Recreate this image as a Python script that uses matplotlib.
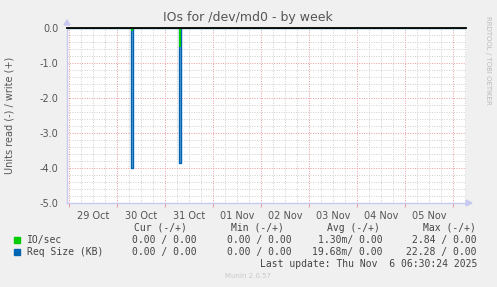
import datetime as dt
import matplotlib
matplotlib.use("Agg")
import matplotlib.pyplot as plt
import matplotlib.dates as mdates
from matplotlib.ticker import MultipleLocator

W, H = 497, 287

# read (-) values around the two spikes (write side is 0 everywhere)
io_times = ["2025-10-28 23:00", "2025-10-30 07:30", "2025-10-30 07:30", "2025-10-30 07:30",
            "2025-10-31 07:30", "2025-10-31 07:30", "2025-10-31 07:30", "2025-11-06 06:30"]
io_read = [0.0, 0.0, -0.05, 0.0, 0.0, -0.5, 0.0, 0.0]
req_times = ["2025-10-28 23:00", "2025-10-30 07:00", "2025-10-30 07:00", "2025-10-30 08:00",
             "2025-10-30 08:00", "2025-10-31 07:00", "2025-10-31 07:00", "2025-10-31 08:00",
             "2025-10-31 08:00", "2025-11-06 06:30"]
req_read = [0.0, 0.0, -4.0, -4.0, 0.0, 0.0, -3.85, -3.85, 0.0, 0.0]

start = dt.datetime(2025, 10, 28, 23, 0)
end = dt.datetime(2025, 11, 6, 6, 30)

legend_names = ["IO/sec", "Req Size (KB)"]
legend_colors = ["#00CC00", "#0066B3"]
cur = ["0.00 / 0.00", "0.00 / 0.00"]
mins = ["0.00 / 0.00", "0.00 / 0.00"]
avgs = ["1.30m/ 0.00", "19.68m/ 0.00"]
maxs = ["2.84 / 0.00", "22.28 / 0.00"]


def px(x, y):
    return x / W, 1 - y / H


def ts(lst):
    return [dt.datetime.strptime(s, "%Y-%m-%d %H:%M") for s in lst]


fig = plt.figure(figsize=(W / 100, H / 100), dpi=100, facecolor="#F0F0F0")
ax = fig.add_axes([67 / W, 1 - 203 / H, (466 - 67) / W, (203 - 28) / H])
ax.set_facecolor("white")

ax.fill_between(ts(req_times), req_read, 0, color="#6FA6D6", lw=0)
ax.plot(ts(req_times), req_read, color=legend_colors[1], lw=1.0)
ax.plot(ts(io_times), io_read, color=legend_colors[0], lw=1.2)
ax.axhline(0, color="black", lw=1.3, clip_on=False, zorder=5)

ax.set_xlim(start, end)
ax.set_ylim(-5, 0)

ax.xaxis.set_major_locator(mdates.DayLocator())
ax.xaxis.set_major_formatter(plt.NullFormatter())
ax.xaxis.set_minor_locator(mdates.HourLocator(byhour=[6, 12, 18]))
ax.yaxis.set_major_locator(MultipleLocator(1.0))
ax.yaxis.set_minor_locator(MultipleLocator(0.2))
ax.yaxis.set_major_formatter(plt.FuncFormatter(lambda v, p: "%.1f" % v))

ax.grid(which="minor", color="#CFCFCF", ls=(0, (1, 1.5)), lw=0.7)
ax.grid(which="major", color="#E89A9A", ls=(0, (1, 1.5)), lw=0.7)
ax.set_axisbelow(True)

for s in ["top", "right"]:
    ax.spines[s].set_visible(False)
for s in ["left", "bottom"]:
    ax.spines[s].set_color("#C8C8F0")
    ax.spines[s].set_linewidth(1.0)

ax.tick_params(axis="y", which="both", length=0, labelsize=7, labelcolor="#555555", pad=6)
ax.tick_params(axis="x", which="major", length=3, color="#EAA0A0", direction="out")
ax.tick_params(axis="x", which="minor", length=0)

# date labels centred at noon
d = dt.datetime(2025, 10, 29, 12)
while d < end:
    ax.text(d, -5.22, d.strftime("%d %b"), ha="center", va="top",
            fontsize=7, color="#555555", clip_on=False)
    d += dt.timedelta(days=1)

# axis arrows
fig.patches.append(plt.Polygon([px(64, 25), px(70, 25), px(67, 20)], closed=True,
                               color="#C8C8F0", transform=fig.transFigure))
fig.patches.append(plt.Polygon([px(466, 200), px(466, 206), px(472, 203)], closed=True,
                               color="#C8C8F0", transform=fig.transFigure))

fig.text(*px(248, 18), "IOs for /dev/md0 - by week", ha="center", va="center",
         fontsize=9, color="#555555")
fig.text(*px(10, 115), "Units read (-) / write (+)", rotation=90, ha="center", va="center",
         fontsize=7, color="#555555")
fig.text(*px(488, 60), "RRDTOOL / TOBI OETIKER", rotation=270, ha="center", va="center",
         fontsize=5, color="#BBBBBB")

mono = dict(family="DejaVu Sans Mono", fontsize=7.0, color="#444444", va="center")
hy = 228
fig.text(*px(187, hy), "Cur (-/+)", ha="right", **mono)
fig.text(*px(284, hy), "Min (-/+)", ha="right", **mono)
fig.text(*px(380, hy), "Avg (-/+)", ha="right", **mono)
fig.text(*px(476, hy), "Max (-/+)", ha="right", **mono)

for i, yy in enumerate([240, 252]):
    fig.patches.append(plt.Rectangle(px(14, yy + 3), 6 / W, 6 / H, color=legend_colors[i],
                                     transform=fig.transFigure))
    fig.text(*px(27, yy), legend_names[i], ha="left", **mono)
    fig.text(*px(197, yy), cur[i], ha="right", **mono)
    fig.text(*px(292, yy), mins[i], ha="right", **mono)
    fig.text(*px(383, yy), avgs[i], ha="right", **mono)
    fig.text(*px(477, yy), maxs[i], ha="right", **mono)

fig.text(*px(477, 264), "Last update: Thu Nov  6 06:30:24 2025", ha="right", **mono)
fig.text(*px(248, 276), "Munin 2.0.57", ha="center", va="center", fontsize=5, color="#C8C8C8")

fig.savefig("out.png", dpi=100, facecolor=fig.get_facecolor())
